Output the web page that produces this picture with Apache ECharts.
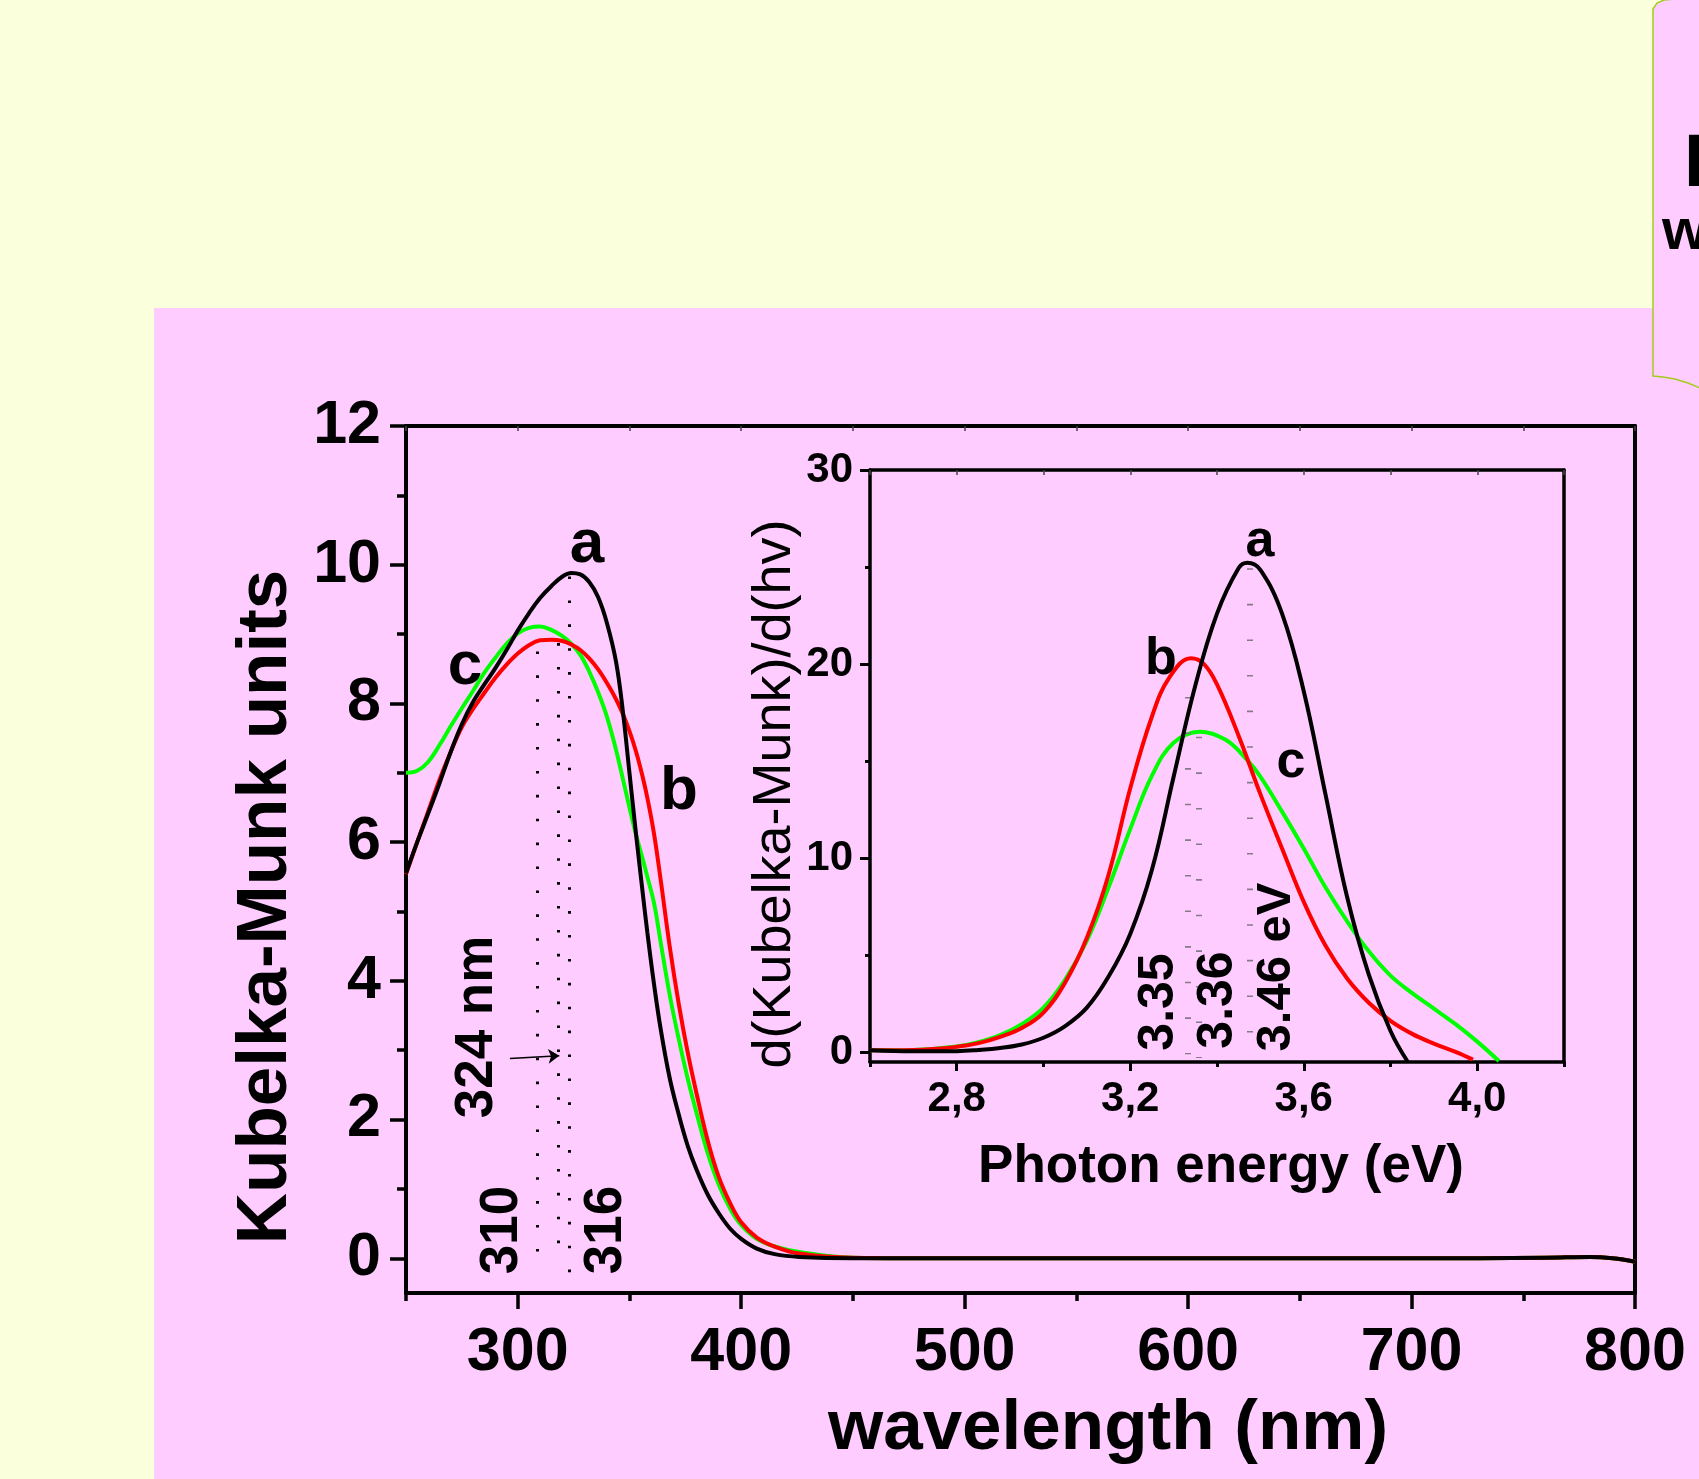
<!DOCTYPE html>
<html lang="en">
<head>
<meta charset="UTF-8">
<title>Kubelka-Munk spectra</title>
<style>
  html, body { margin: 0; padding: 0; background: #FAFFDC; }
  #main { width: 1699px; height: 1479px; }
</style>
</head>
<body>
<div id="main"></div>
<script src="https://cdn.jsdelivr.net/npm/echarts@6/dist/echarts.min.js"></script>
<script>
// ---- main plot: Kubelka-Munk units vs wavelength (nm) ----
var wavelength = [250, 255, 260, 265, 270, 275, 280, 285, 290, 295, 300, 305, 310, 315, 320, 324, 328, 332, 336, 340,
  344, 347, 350, 353, 356, 358, 361, 364, 368, 372, 376, 380, 385, 390, 395, 400, 407, 415, 426, 450,
  500, 600, 700, 760, 780, 790, 800];
var kmA = [5.55, 6.0, 6.42, 6.85, 7.3, 7.7, 8.02, 8.27, 8.51, 8.77, 9.05, 9.3, 9.52, 9.69, 9.83, 9.88, 9.86, 9.75, 9.53, 9.15,
  8.6, 7.9, 7.0, 6.1, 5.25, 4.7, 3.95, 3.3, 2.6, 2.08, 1.63, 1.28, 0.92, 0.65, 0.43, 0.28, 0.14, 0.06, 0.02, 0.0,
  0.0, 0.0, 0.0, 0.01, 0.02, 0.0, -0.05];
var kmB = [5.54, 6.0, 6.45, 6.9, 7.3, 7.66, 7.92, 8.15, 8.37, 8.56, 8.72, 8.84, 8.91, 8.92, 8.9, 8.85, 8.77, 8.65, 8.49, 8.29,
  8.06, 7.85, 7.6, 7.3, 6.93, 6.64, 6.12, 5.45, 4.5, 3.68, 2.98, 2.38, 1.7, 1.17, 0.8, 0.52, 0.3, 0.17, 0.07, 0.01,
  0.0, 0.0, 0.0, 0.01, 0.02, 0.0, -0.05];
var kmC = [7.0, 7.03, 7.16, 7.4, 7.67, 7.93, 8.18, 8.44, 8.66, 8.86, 9.01, 9.09, 9.11, 9.06, 8.97, 8.86, 8.7, 8.46, 8.16, 7.8,
  7.33, 6.92, 6.5, 6.1, 5.75, 5.5, 5.12, 4.55, 3.8, 3.17, 2.6, 2.1, 1.52, 1.06, 0.72, 0.48, 0.28, 0.17, 0.09, 0.01,
  0.0, 0.0, 0.0, 0.01, 0.02, 0.0, -0.05];

// ---- inset: d(Kubelka-Munk)/d(hv) vs photon energy (eV) ----
var evA = [2.60, 2.70, 2.80, 2.85, 2.90, 2.95, 3.00, 3.05, 3.10, 3.15, 3.20, 3.25, 3.30, 3.35, 3.40, 3.45, 3.47, 3.50,
  3.55, 3.60, 3.65, 3.70, 3.75, 3.80, 3.84];
var derivA = [0.10, 0.05, 0.06, 0.12, 0.22, 0.40, 0.75, 1.35, 2.30, 3.90, 6.10, 9.40, 14.2, 18.9, 22.6, 24.95, 25.22, 24.85,
  22.6, 18.6, 13.3, 8.0, 4.0, 1.1, -0.5];
var evB = [2.60, 2.70, 2.80, 2.85, 2.90, 2.95, 3.00, 3.05, 3.10, 3.15, 3.20, 3.25, 3.29, 3.34, 3.37, 3.40, 3.45, 3.50,
  3.55, 3.60, 3.65, 3.70, 3.75, 3.80, 3.85, 3.90, 3.95, 3.99];
var derivB = [0.10, 0.12, 0.28, 0.47, 0.80, 1.25, 2.05, 3.6, 5.9, 9.15, 13.6, 17.3, 19.3, 20.3, 20.0, 18.95, 16.3, 13.3,
  10.5, 7.75, 5.5, 3.8, 2.55, 1.62, 0.95, 0.45, 0.02, -0.38];
var evC = [2.60, 2.70, 2.80, 2.85, 2.90, 2.95, 3.00, 3.05, 3.10, 3.15, 3.20, 3.25, 3.30, 3.36, 3.42, 3.47, 3.50, 3.55,
  3.60, 3.65, 3.70, 3.75, 3.80, 3.85, 3.90, 3.95, 4.00, 4.05];
var derivC = [0.10, 0.12, 0.30, 0.52, 0.88, 1.45, 2.3, 3.75, 5.75, 8.5, 11.5, 14.25, 15.95, 16.52, 16.1, 15.05, 14.2, 12.4,
  10.5, 8.5, 6.75, 5.2, 3.95, 3.05, 2.25, 1.45, 0.55, -0.45];

// ticks
var nmTicks = [300, 400, 500, 600, 700, 800];
var nmMinor = [250, 350, 450, 550, 650, 750];
var kmTicks = [0, 2, 4, 6, 8, 10, 12];
var kmMinor = [1, 3, 5, 7, 9, 11];
var evTicks = [2.8, 3.2, 3.6, 4.0];
var evMinor = [2.6, 3.0, 3.4, 3.8, 4.2];
var derivTicks = [0, 10, 20, 30];
var derivMinor = [5, 15, 25];

// guide lines: [x, yTop, yBottom]
var nmGuides = [[308.8, 8.75, -0.14], [318.2, 8.87, -0.05], [322.9, 9.83, -0.46]];
var evGuides = [[3.332, 18.31, -0.1], [3.359, 16.26, -0.3], [3.476, 24.94, -0.3]];

var FONT = "'Liberation Sans', Arial, Helvetica, sans-serif";

function pairs(xs, ys) {
  return xs.map(function (x, i) { return [x, ys[i]]; });
}
function guideData(g) {
  return g.map(function (d) { return [{ coord: [d[0], d[1]] }, { coord: [d[0], d[2]] }]; });
}

function lineAxis(gridIndex, position, min, max, width, tickValues) {
  return {
    gridIndex: gridIndex, type: 'value', position: position, min: min, max: max,
    axisLine: { onZero: false, lineStyle: { color: '#000', width: width } },
    axisTick: tickValues ? { inside: true, customValues: tickValues, length: 5, lineStyle: { color: '#444', width: 1.5 } } : { show: false },
    axisLabel: { show: false },
    splitLine: { show: false }
  };
}
function minorAxis(gridIndex, position, min, max, values, len, width) {
  return {
    gridIndex: gridIndex, type: 'value', position: position, min: min, max: max,
    axisLine: { show: false, onZero: false },
    axisTick: { customValues: values, length: len, lineStyle: { color: '#000', width: width } },
    axisLabel: { show: false },
    splitLine: { show: false }
  };
}
function txt(str, x, y, size, rotate, weight) {
  return {
    type: 'text', x: x, y: y, rotation: rotate ? Math.PI / 2 : 0, z: 20,
    style: {
      text: str, fill: '#000', font: (weight || 'bold') + ' ' + size + 'px ' + FONT,
      textAlign: 'center', textVerticalAlign: 'middle', align: 'center', verticalAlign: 'middle'
    }
  };
}
function curve(name, xIdx, data, color, z) {
  return {
    name: name, type: 'line', xAxisIndex: xIdx, yAxisIndex: xIdx, data: data,
    showSymbol: false, symbol: 'none', smooth: 0.4,
    lineStyle: { color: color, width: 4 }, z: z
  };
}

var chart = echarts.init(document.getElementById('main'));

var sA = curve('a', 0, pairs(wavelength, kmA), '#000000', 5);
sA.markLine = {
  silent: true, symbol: 'none', label: { show: false },
  lineStyle: { color: '#000', width: 3, type: [2.6, 21.3] },
  data: guideData(nmGuides)
};
var sB = curve('b', 0, pairs(wavelength, kmB), '#FF0000', 4);
sB.markLine = {
  silent: true, symbol: ['none', 'arrow'], symbolSize: 11, label: { show: false },
  lineStyle: { color: '#000', width: 1.6, type: 'solid' },
  data: [[{ coord: [296.5, 2.88] }, { coord: [318.6, 2.92] }]]
};
var sInA = curve('a inset', 3, pairs(evA, derivA), '#000000', 5);
sInA.markLine = {
  silent: true, symbol: 'none', label: { show: false },
  lineStyle: { color: '#857a88', width: 6, type: [1.6, 34] },
  data: guideData(evGuides)
};

var option = {
  animation: false,
  backgroundColor: '#FAFFDC',
  grid: [
    { left: 406, top: 426, width: 1229, height: 867, containLabel: false, outerBoundsMode: 'none' },
    { left: 870, top: 470, width: 694, height: 592, containLabel: false, outerBoundsMode: 'none' }
  ],
  xAxis: [
    {
      gridIndex: 0, type: 'value', position: 'bottom', min: 250, max: 800,
      axisLine: { onZero: false, lineStyle: { color: '#000', width: 4 } },
      axisTick: { customValues: nmTicks, length: 16, lineStyle: { color: '#000', width: 3.5 } },
      axisLabel: { customValues: nmTicks, margin: 30, color: '#000', fontSize: 61, fontWeight: 'bold', fontFamily: FONT },
      splitLine: { show: false },
      name: 'wavelength (nm)', nameLocation: 'middle', nameGap: 101,
      nameTextStyle: { color: '#000', fontSize: 71, fontWeight: 'bold', fontFamily: FONT, padding: [0, 0, 0, 175] }
    },
    minorAxis(0, 'bottom', 250, 800, nmMinor, 8, 3.5),
    lineAxis(0, 'top', 250, 800, 4, nmMinor.concat(nmTicks)),
    {
      gridIndex: 1, type: 'value', position: 'bottom', min: 2.6, max: 4.2,
      axisLine: { onZero: false, lineStyle: { color: '#000', width: 3.5 } },
      axisTick: { customValues: evTicks, length: 9, lineStyle: { color: '#000', width: 3 } },
      axisLabel: {
        customValues: evTicks, margin: 16, color: '#000', fontSize: 42, fontWeight: 'bold', fontFamily: FONT,
        formatter: function (v) { return v.toFixed(1).replace('.', ','); }
      },
      splitLine: { show: false },
      name: 'Photon energy (eV)', nameLocation: 'middle', nameGap: 79,
      nameTextStyle: { color: '#000', fontSize: 53, fontWeight: 'bold', fontFamily: FONT, padding: [0, 0, 0, 8] }
    },
    minorAxis(1, 'bottom', 2.6, 4.2, evMinor, 5, 3),
    lineAxis(1, 'top', 2.6, 4.2, 3.5, evMinor.concat(evTicks))
  ],
  yAxis: [
    {
      gridIndex: 0, type: 'value', position: 'left', min: -0.5, max: 12,
      axisLine: { onZero: false, lineStyle: { color: '#000', width: 4 } },
      axisTick: { customValues: kmTicks, length: 16, lineStyle: { color: '#000', width: 3.5 } },
      axisLabel: { customValues: kmTicks, margin: 25, color: '#000', fontSize: 61, fontWeight: 'bold', fontFamily: FONT },
      splitLine: { show: false },
      name: 'Kubelka-Munk units', nameLocation: 'middle', nameGap: 97,
      nameTextStyle: { color: '#000', fontSize: 71, fontWeight: 'bold', fontFamily: FONT, padding: [0, 95, 0, 0] }
    },
    minorAxis(0, 'left', -0.5, 12, kmMinor, 9, 3.5),
    lineAxis(0, 'right', -0.5, 12, 4, null),
    {
      gridIndex: 1, type: 'value', position: 'left', min: -0.5, max: 30,
      axisLine: { onZero: false, lineStyle: { color: '#000', width: 3.5 } },
      axisTick: { customValues: derivTicks, length: 10, lineStyle: { color: '#000', width: 3 } },
      axisLabel: { customValues: derivTicks, margin: 17, color: '#000', fontSize: 42, fontWeight: 'bold', fontFamily: FONT },
      splitLine: { show: false },
      name: 'd(Kubelka-Munk)/d(hv)', nameLocation: 'middle', nameGap: 66,
      nameTextStyle: { color: '#000', fontSize: 54, fontWeight: 'normal', fontFamily: FONT, padding: [0, 56, 0, 0] }
    },
    minorAxis(1, 'left', -0.5, 30, derivMinor, 5, 3),
    lineAxis(1, 'right', -0.5, 30, 3.5, null)
  ],
  series: [
    curve('c', 0, pairs(wavelength, kmC), '#00FF00', 3),
    sB,
    sA,
    curve('c inset', 3, pairs(evC, derivC), '#00FF00', 3),
    curve('b inset', 3, pairs(evB, derivB), '#FF0000', 4),
    sInA
  ],
  graphic: [
    { type: 'rect', z: -10, shape: { x: 154, y: 308, width: 1600, height: 1200 }, style: { fill: '#FFCCFF' } },
    {
      type: 'polygon', z: -5,
      shape: { points: [[1710, -3], [1675, -1], [1664, 0], [1657, 3], [1653, 9], [1653, 376], [1663, 377], [1675, 379], [1688, 383], [1710, 392]] },
      style: { fill: '#FFCCFF', stroke: '#A2CC1E', lineWidth: 1.5 }
    },
    { type: 'text', x: 1684, y: 166, z: 20, style: { text: 'E', fill: '#000', font: 'bold 74px ' + FONT, textAlign: 'left', textVerticalAlign: 'middle', align: 'left', verticalAlign: 'middle' } },
    { type: 'text', x: 1662, y: 233, z: 20, style: { text: 'w', fill: '#000', font: 'bold 58px ' + FONT, textAlign: 'left', textVerticalAlign: 'middle', align: 'left', verticalAlign: 'middle' } },
    txt('a', 587, 545, 62), txt('b', 679, 792, 62), txt('c', 465, 667, 62),
    txt('324 nm', 477, 1027, 53, true), txt('310', 502, 1230, 53, true), txt('316', 606, 1230, 53, true),
    txt('a', 1260, 542, 52), txt('b', 1161, 660, 52), txt('c', 1291, 763, 52),
    txt('3.35', 1159, 1002, 50, true), txt('3.36', 1218, 1000, 50, true), txt('3.46 eV', 1276, 967, 49, true)
  ]
};

chart.setOption(option);
</script>
</body>
</html>
